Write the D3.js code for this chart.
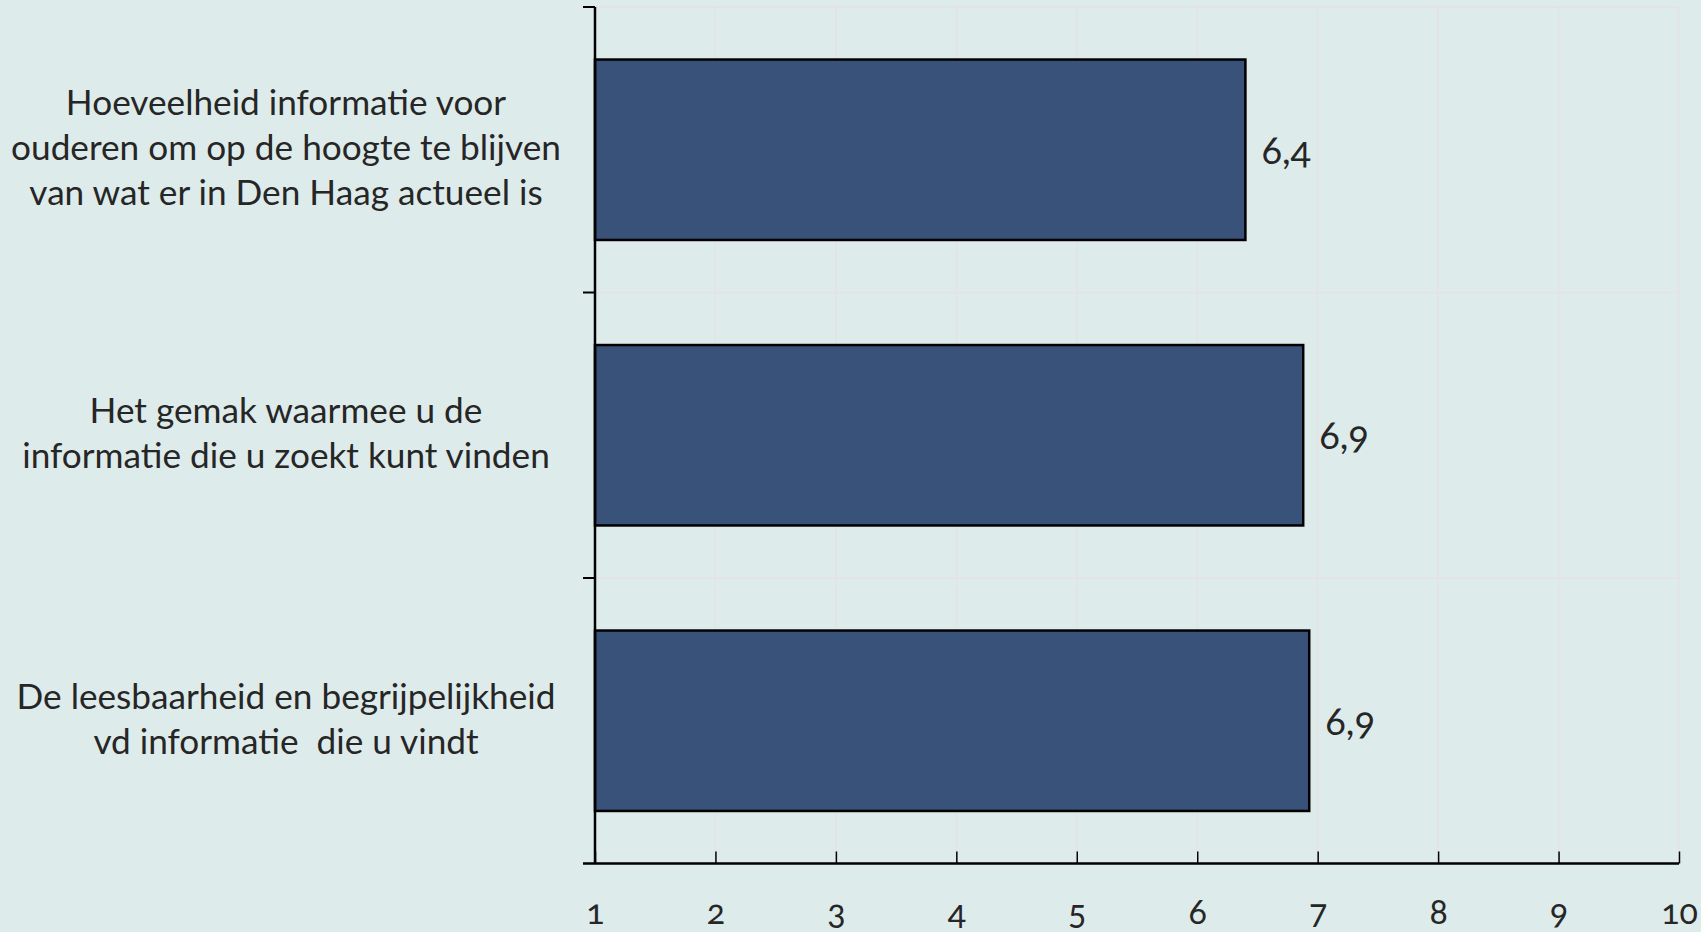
<!DOCTYPE html>
<html>
<head>
<meta charset="utf-8">
<script src="https://cdn.jsdelivr.net/npm/d3@7"></script>
<style>
  html, body { margin: 0; padding: 0; background: #deebeb; }
  svg { display: block; }
  text { font-family: Lato, "Open Sans", sans-serif; fill: #262626; font-variant-numeric: oldstyle-nums; font-feature-settings: "onum" 1; }
</style>
</head>
<body>
<script>
// ---- data ----
const categories = [
  ["Hoeveelheid informatie voor", "ouderen om op de hoogte te blijven", "van wat er in Den Haag actueel is"],
  ["Het gemak waarmee u de", "informatie die u zoekt kunt vinden"],
  ["De leesbaarheid en begrijpelijkheid", "vd informatie  die u vindt"]
];
const values = [6.40, 6.88, 6.93];
const valueLabels = ["6,4", "6,9", "6,9"];
const xTicks = [1, 2, 3, 4, 5, 6, 7, 8, 9, 10];
const xDomain = [1, 10];

// ---- layout ----
const W = 1701, H = 932;
const mL = 595, mR = 1679, mT = 7, mB = 863.5;

const svg = d3.select("body").append("svg").attr("width", W).attr("height", H);
svg.append("rect").attr("width", W).attr("height", H).attr("fill", "#deebeb");

const x = d3.scaleLinear().domain(xDomain).range([mL, mR]);
const y = d3.scaleBand().domain(d3.range(categories.length)).range([mT, mB])
  .paddingInner(0.368).paddingOuter(0.184);
const step = y.step();

// gridlines
const grid = svg.append("g");
grid.selectAll("line.v").data(xTicks.slice(1)).join("line")
  .attr("x1", d => x(d)).attr("x2", d => x(d))
  .attr("y1", mT).attr("y2", mB)
  .attr("stroke", "#e6e2e2").attr("stroke-width", 1.5);
const hb = d3.range(categories.length).map(i => mT + i * step);
grid.selectAll("line.h").data(hb).join("line")
  .attr("x1", mL).attr("x2", mR)
  .attr("y1", d => d).attr("y2", d => d)
  .attr("stroke", "#e6e2e2").attr("stroke-width", 1.5);

// bars
svg.append("g").selectAll("rect").data(values).join("rect")
  .attr("x", x(xDomain[0]))
  .attr("y", (d, i) => y(i))
  .attr("width", d => x(d) - x(xDomain[0]))
  .attr("height", y.bandwidth())
  .attr("fill", "#39527a")
  .attr("stroke", "#000").attr("stroke-width", 2.5);

// value labels
svg.append("g").selectAll("text").data(values).join("text")
  .attr("x", d => x(d) + 16)
  .attr("y", (d, i) => y(i) + y.bandwidth() / 2 + 14)
  .attr("font-size", 38)
  .text((d, i) => valueLabels[i]);

// x axis
const xAxis = d3.axisBottom(x).tickValues(xTicks).tickSizeInner(-12).tickSizeOuter(0).tickPadding(0).tickFormat(d => String(d));
const gx = svg.append("g").attr("transform", `translate(0,${mB})`).call(xAxis);
gx.select(".domain").remove();
gx.selectAll(".tick line").attr("stroke", "#000").attr("stroke-width", 1.5);
gx.selectAll(".tick text").attr("font-size", 34).attr("dy", null).attr("y", 924 - mB)
  .attr("fill", "#262626").attr("font-family", "Lato, 'Open Sans', sans-serif");
svg.append("line").attr("x1", mL - 12).attr("x2", mR).attr("y1", mB).attr("y2", mB)
  .attr("stroke", "#000").attr("stroke-width", 2.5);

// y axis
svg.append("line").attr("x1", mL).attr("x2", mL).attr("y1", mT).attr("y2", mB)
  .attr("stroke", "#000").attr("stroke-width", 2.5);
svg.append("g").selectAll("line").data(hb).join("line")
  .attr("x1", mL - 12).attr("x2", mL)
  .attr("y1", d => d).attr("y2", d => d)
  .attr("stroke", "#000").attr("stroke-width", 2);

// category labels
const lineH = 45;
const lab = svg.append("g").selectAll("text").data(categories).join("text")
  .attr("text-anchor", "middle")
  .attr("font-size", 35.2)
  .style("white-space", "pre");
lab.each(function(lines, i) {
  const cy = mT + i * step + step / 2 + 10.5;
  d3.select(this).selectAll("tspan").data(lines).join("tspan")
    .attr("x", 286)
    .attr("y", (l, j) => cy + (j - (lines.length - 1) / 2) * lineH)
    .text(l => l);
});
</script>
</body>
</html>
